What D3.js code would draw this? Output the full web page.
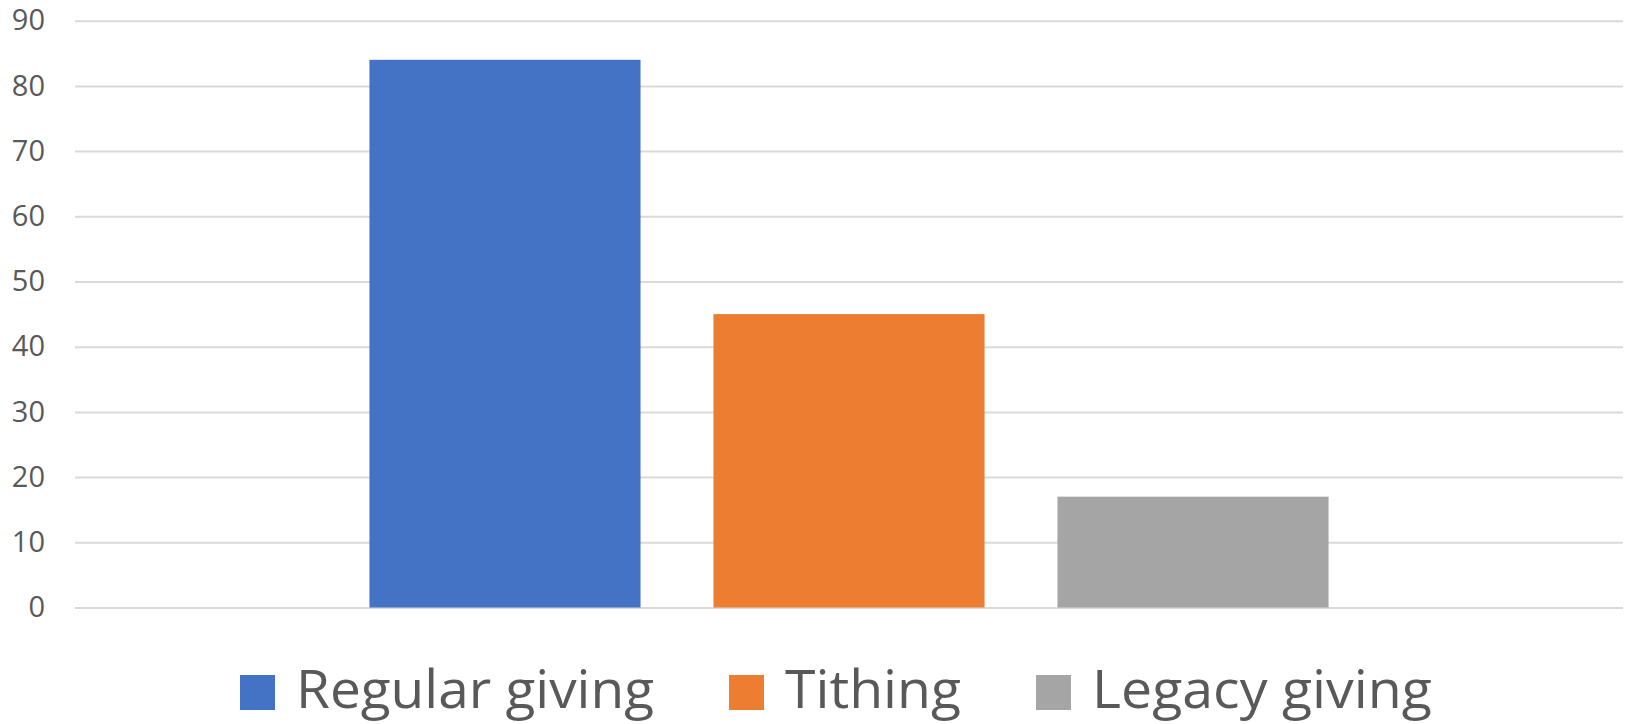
<html>
<script src='https://d3js.org/d3.v7.min.js'></script>
<style>
    body {
        margin: 0;
        overflow: hidden;
        background: #fff;
        font-family: 'Open Sans', sans-serif;
    }
</style>
<body>
<svg id='chart' width=1628 height=724></svg>
<script>
    // chart values
    var categories = [''];
    var series = ['Regular giving', 'Tithing', 'Legacy giving'];
    var values = [84, 45, 17];
    var colors = ['#4472c4', '#ed7d31', '#a5a5a5'];
    var yTicks = [0, 10, 20, 30, 40, 50, 60, 70, 80, 90];

    const plotLeft = 75, plotRight = 1623, plotTop = 20.7, plotBottom = 607.5;

    var svg = d3.select('#chart');

    var y = d3.scaleLinear()
        .domain([0, 90])
        .range([plotBottom, plotTop]);

    // outer band for the single category, inner band for the series
    var x0 = d3.scaleBand()
        .domain(categories)
        .range([plotLeft, plotRight])
        .paddingInner(0)
        .paddingOuter(0.307);

    var x1 = d3.scaleBand()
        .domain(series)
        .range([0, x0.bandwidth()])
        .paddingInner(0.212)
        .paddingOuter(0);

    // gridlines + labels
    var yaxis = svg.append('g')
        .attr('transform', 'translate(' + plotLeft + ',0)')
        .call(d3.axisLeft(y).tickValues(yTicks).tickSize(-(plotRight - plotLeft)).tickPadding(30));
    yaxis.select('.domain').remove();
    yaxis.selectAll('line')
        .attr('stroke', '#d9d9d9')
        .attr('stroke-width', 2);
    yaxis.selectAll('text')
        .attr('fill', '#595959')
        .style('font-family', "'Open Sans', sans-serif")
        .style('font-size', '29px');

    // bars
    svg.append('g')
        .selectAll('rect')
        .data(series)
        .enter()
        .append('rect')
        .attr('x', function(d) { return x0('') + x1(d); })
        .attr('width', x1.bandwidth())
        .attr('y', function(d, i) { return y(values[i]); })
        .attr('height', function(d, i) { return y(0) - y(values[i]); })
        .attr('fill', function(d, i) { return colors[i]; });

    // legend
    var textWidths = [358, 176, 340];
    var legend = svg.append('g');
    var lx = 240;
    series.forEach(function(s, i) {
        legend.append('rect')
            .attr('x', lx)
            .attr('y', 675)
            .attr('width', 35)
            .attr('height', 35)
            .attr('fill', colors[i]);
        legend.append('text')
            .attr('x', lx + 56)
            .attr('y', 708)
            .attr('fill', '#595959')
            .style('font-size', '53px')
            .attr('textLength', textWidths[i])
            .attr('lengthAdjust', 'spacingAndGlyphs')
            .text(s);
        lx += 56 + textWidths[i] + 75;
    });
</script>
</body>
</html>
